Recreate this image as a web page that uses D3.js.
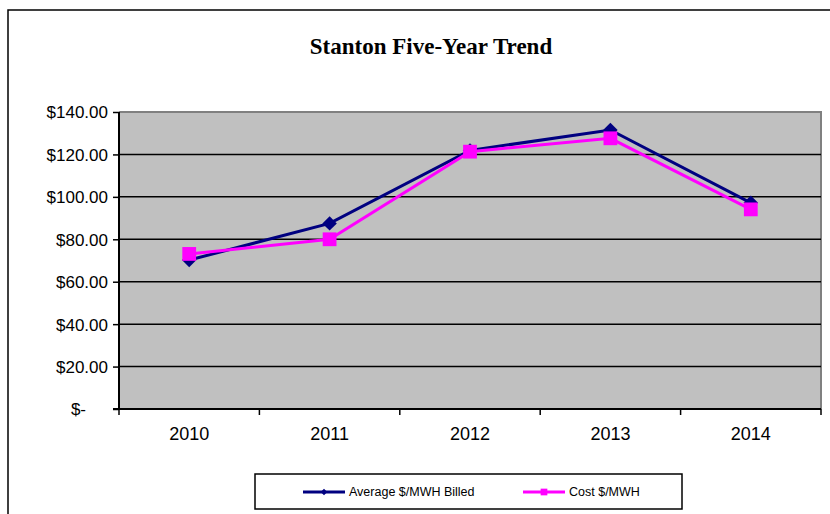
<!DOCTYPE html>
<html>
<head>
<meta charset="utf-8">
<script src="https://cdn.jsdelivr.net/npm/d3@7"></script>
<style>
  html, body { margin: 0; padding: 0; background: #fff; }
  svg { display: block; }
</style>
</head>
<body>
<script>
// Stanton five-year price trend, $/MWH
const years = ["2010", "2011", "2012", "2013", "2014"];
const avgBilled = [70.2, 87.5, 121.9, 131.5, 97.2];
const costPerMwh = [73.1, 80.0, 121.3, 127.6, 94.1];
const yTicks = [0, 20, 40, 60, 80, 100, 120, 140];
const seriesNames = ["Average $/MWH Billed", "Cost $/MWH"];

const W = 830, H = 514;
const plot = { left: 119, top: 112, right: 821, bottom: 409 };

const svg = d3.select("body").append("svg")
  .attr("width", W).attr("height", H);

// outer chart frame
svg.append("rect")
  .attr("x", 8).attr("y", 10)
  .attr("width", W + 10).attr("height", H + 10)
  .attr("fill", "#fff").attr("stroke", "#000").attr("stroke-width", 1.5);

// title
svg.append("text")
  .attr("x", 431).attr("y", 54)
  .attr("text-anchor", "middle")
  .attr("font-family", "'Liberation Serif', 'Times New Roman', serif")
  .attr("font-weight", "bold")
  .attr("font-size", 23)
  .attr("fill", "#000")
  .text("Stanton Five-Year Trend");

const x = d3.scaleBand().domain(years).range([plot.left, plot.right]);
const y = d3.scaleLinear().domain([0, 140]).range([plot.bottom, plot.top]);

// plot area background
svg.append("rect")
  .attr("x", plot.left).attr("y", plot.top)
  .attr("width", plot.right - plot.left).attr("height", plot.bottom - plot.top)
  .attr("fill", "#c0c0c0");

// top/right plot border
svg.append("path")
  .attr("d", `M${plot.left},${plot.top}H${plot.right}V${plot.bottom}`)
  .attr("fill", "none").attr("stroke", "#808080").attr("stroke-width", 2);

// horizontal gridlines
svg.append("g").selectAll("line")
  .data(yTicks.filter(d => d > 0 && d < 140))
  .join("line")
  .attr("x1", plot.left).attr("x2", plot.right)
  .attr("y1", d => y(d)).attr("y2", d => y(d))
  .attr("stroke", "#000").attr("stroke-width", 1.5);

// y axis
const fmt = d => d === 0 ? "$-" : "$" + d3.format(".2f")(d);
const yAxis = svg.append("g")
  .attr("transform", `translate(${plot.left},0)`)
  .call(d3.axisLeft(y).tickValues(yTicks).tickFormat(fmt).tickSize(6).tickPadding(5));
yAxis.select(".domain").attr("stroke", "#000").attr("stroke-width", 2)
  .attr("d", `M0,${plot.top}V${plot.bottom}`);
yAxis.selectAll(".tick line").attr("stroke", "#000").attr("stroke-width", 1.5);
yAxis.selectAll(".tick text")
  .attr("font-family", "'Liberation Sans', Arial, sans-serif")
  .attr("font-size", 17).attr("fill", "#000")
  .attr("dy", "0.35em")
  .attr("dx", d => d === 0 ? -22 : 0);

// x axis with ticks at category boundaries
const xAxis = svg.append("g")
  .attr("transform", `translate(0,${plot.bottom})`);
xAxis.append("line")
  .attr("x1", plot.left - 6).attr("x2", plot.right)
  .attr("stroke", "#000").attr("stroke-width", 2);
xAxis.selectAll(".bound")
  .data(years.concat(["end"]))
  .join("line")
  .attr("x1", (d, i) => plot.left + i * x.step())
  .attr("x2", (d, i) => plot.left + i * x.step())
  .attr("y1", 0).attr("y2", 6)
  .attr("stroke", "#000").attr("stroke-width", 1.5);
xAxis.selectAll("text")
  .data(years)
  .join("text")
  .attr("x", d => x(d) + x.bandwidth() / 2)
  .attr("y", 31)
  .attr("text-anchor", "middle")
  .attr("font-family", "'Liberation Sans', Arial, sans-serif")
  .attr("font-size", 18).attr("fill", "#000")
  .text(d => d);

const cx = d => x(d) + x.bandwidth() / 2;
const line = d3.line().x(d => cx(d.year)).y(d => y(d.value));

// diamonds are squares turned 45 degrees
const series = [
  { name: seriesNames[0], color: "#000080", values: avgBilled, shape: d3.symbolSquare, size: 105, rotate: 45, legendSize: 22 },
  { name: seriesNames[1], color: "#ff00ff", values: costPerMwh, shape: d3.symbolSquare, size: 190, rotate: 0, legendSize: 45 }
];

series.forEach(s => {
  const pts = years.map((yr, i) => ({ year: yr, value: s.values[i] }));
  svg.append("path")
    .datum(pts)
    .attr("d", line)
    .attr("fill", "none")
    .attr("stroke", s.color)
    .attr("stroke-width", 3);
  svg.append("g").selectAll("path")
    .data(pts)
    .join("path")
    .attr("transform", d => `translate(${cx(d.year)},${y(d.value)}) rotate(${s.rotate})`)
    .attr("d", d3.symbol().type(s.shape).size(s.size))
    .attr("fill", s.color);
});

// legend
const lg = svg.append("g");
lg.append("rect")
  .attr("x", 255).attr("y", 474).attr("width", 427).attr("height", 35)
  .attr("fill", "#fff").attr("stroke", "#000").attr("stroke-width", 1.5);
const legendX = [303, 523];
series.forEach((s, i) => {
  const g = lg.append("g").attr("transform", `translate(${legendX[i]},492)`);
  g.append("line").attr("x1", 0).attr("x2", 42)
    .attr("stroke", s.color).attr("stroke-width", 3);
  g.append("path").attr("transform", `translate(21,0) rotate(${s.rotate})`)
    .attr("d", d3.symbol().type(s.shape).size(s.legendSize))
    .attr("fill", s.color);
  g.append("text")
    .attr("x", 46).attr("y", 0).attr("dy", "0.35em")
    .attr("font-family", "'Liberation Sans', Arial, sans-serif")
    .attr("font-size", 12.5).attr("fill", "#000")
    .text(s.name);
});
</script>
</body>
</html>
